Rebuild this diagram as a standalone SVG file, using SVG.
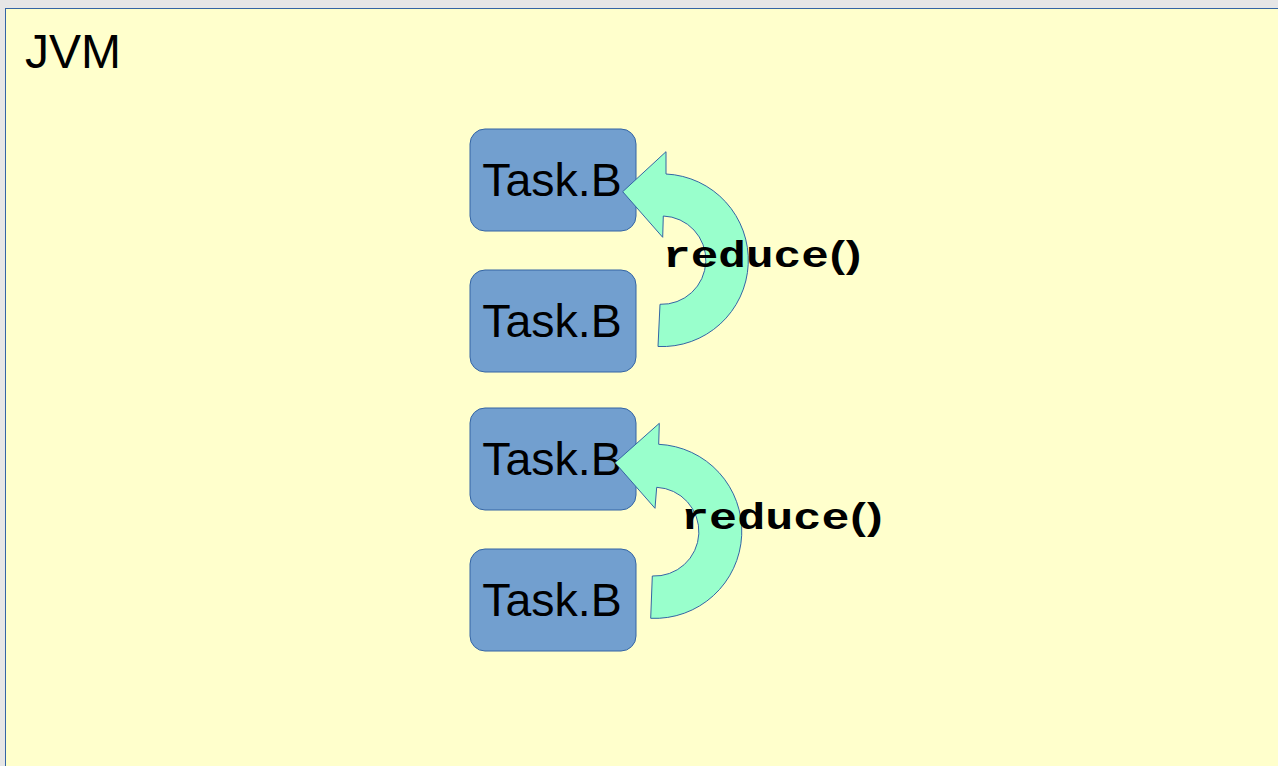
<svg xmlns="http://www.w3.org/2000/svg" width="1278" height="766" viewBox="0 0 1278 766">
  <style>
    .task rect { fill: #729fcf; stroke: #3465a4; stroke-width: 1; }
    .task text { font-family: "Liberation Sans", Arial, sans-serif; font-size: 46.5px; fill: #000; text-anchor: middle; }
    .curl { fill: #99ffcc; stroke: #3465a4; stroke-width: 1; stroke-linejoin: miter; }
    .call { font-family: "Liberation Mono", "Courier New", monospace; font-weight: bold; font-size: 36px; fill: #000; }
  </style>

  <!-- page and JVM frame -->
  <rect x="0" y="0" width="1278" height="766" fill="#e6e6e6"/>
  <rect id="jvm" x="5.5" y="8.5" width="1290" height="780" fill="#ffffcc" stroke="#3465a4" stroke-width="1"/>
  <text x="25" y="68" font-family="Liberation Sans, Arial, sans-serif" font-size="48" fill="#000">JVM</text>

  <!-- task nodes -->
  <g id="task1" class="task">
    <rect x="470" y="129" width="166" height="102" rx="15" ry="15"/>
    <text x="552" y="196">Task.B</text>
  </g>
  <g id="task2" class="task">
    <rect x="470" y="270" width="166" height="102" rx="15" ry="15"/>
    <text x="552" y="337">Task.B</text>
  </g>
  <g id="task3" class="task">
    <rect x="470" y="408" width="166" height="102" rx="15" ry="15"/>
    <text x="552" y="475">Task.B</text>
  </g>
  <g id="task4" class="task">
    <rect x="470" y="549" width="166" height="102" rx="15" ry="15"/>
    <text x="552" y="616">Task.B</text>
  </g>

  <!-- curved reduce arrows -->
  <g id="connectors">
    <g id="reduce1">
      <path class="curl" d="M 622.7,191.7 L 666,151.7 L 666,174 A 86 86 0 0 1 658,346.5 L 660,304.3 A 44 44 0 0 0 663.3,216 L 662.7,237.3 Z"/>
      <text class="call" transform="translate(663,267) scale(1.28,1)" x="0 21.6 43.2 64.8 86.4 108 126 137.6" y="0">reduce()</text>
    </g>
    <g id="reduce2">
      <path class="curl" d="M 615,462.7 L 659.3,423.3 L 658.7,444.3 A 87 87 0 0 1 650.7,618.3 L 652.3,576 A 44.4 44.4 0 0 0 656.7,487.3 L 655,508.3 Z"/>
      <text class="call" transform="translate(681,529) scale(1.3,1)" x="0 21.6 43.2 64.8 86.4 108 126 137.6" y="0">reduce()</text>
    </g>
  </g>
</svg>
